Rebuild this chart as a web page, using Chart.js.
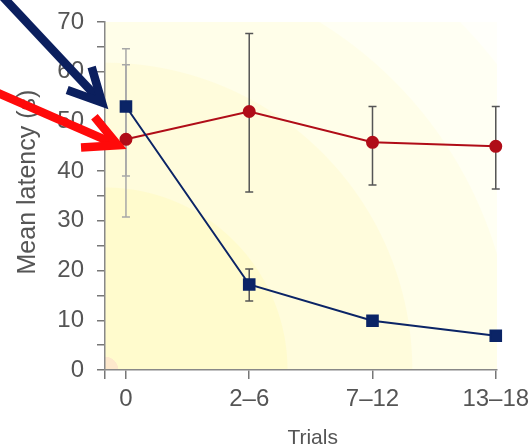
<!DOCTYPE html>
<html>
<head>
<meta charset="utf-8">
<script src="https://cdn.jsdelivr.net/npm/chart.js@4"></script>
<style>
  html, body { margin: 0; padding: 0; background: #fff; }
  #wrap { width: 531px; height: 447px; }
</style>
</head>
<body>
<div id="wrap"><canvas id="latencyChart"></canvas></div>
<script>
// trial blocks on the x axis
const trialBlocks = ['0', '2\u20136', '7\u201312', '13\u201318'];

// blue squares
const blueMean = [53.0, 17.2, 9.9, 6.9];
const blueLow  = [39.0, 13.9, 9.2, 6.3];
const blueHigh = [64.6, 20.3, 10.6, 7.5];

// red circles
const redMean = [46.4, 52.0, 45.8, 45.0];
const redLow  = [30.8, 35.8, 37.2, 36.4];
const redHigh = [61.4, 67.7, 53.0, 53.0];

const yTicks = [0, 5, 10, 15, 20, 25, 30, 35, 40, 45, 50, 55, 60, 65, 70];

const toPoints = arr => arr.map((v, i) => ({ x: i, y: v }));

// pale radial wash behind the plot, from the bottom-left corner
const backdrop = {
    id: 'backdrop',
    beforeDraw(chart) {
        const { ctx, chartArea: a } = chart;
        const g = ctx.createRadialGradient(a.left, a.bottom, 0, a.left, a.bottom, 520);
        g.addColorStop(0.000, '#fde8cc');
        g.addColorStop(0.025, '#fde8cc');
        g.addColorStop(0.026, '#fffbcd');
        g.addColorStop(0.350, '#fffbcd');
        g.addColorStop(0.352, '#fffcdc');
        g.addColorStop(0.590, '#fffcdc');
        g.addColorStop(0.592, '#fffee9');
        g.addColorStop(0.785, '#fffee9');
        g.addColorStop(0.787, '#fffff3');
        g.addColorStop(0.955, '#fffff3');
        g.addColorStop(0.957, '#fffffa');
        g.addColorStop(1.000, '#fffffa');
        ctx.save();
        ctx.fillStyle = g;
        ctx.fillRect(a.left, a.top, a.right - a.left, a.bottom - a.top);
        ctx.restore();
    }
};

// error bars, drawn under the lines and markers
const errorBars = {
    id: 'errorBars',
    beforeDatasetsDraw(chart) {
        const { ctx, scales: { x, y } } = chart;
        const sets = [[blueLow, blueHigh], [redLow, redHigh]];
        ctx.save();
        ctx.lineWidth = 1.5;
        sets.forEach(([lo, hi]) => {
            lo.forEach((l, i) => {
                const px = x.getPixelForValue(i);
                const yl = y.getPixelForValue(l);
                const yh = y.getPixelForValue(hi[i]);
                ctx.strokeStyle = i === 0 ? '#a8a8a8' : '#555';
                ctx.beginPath();
                ctx.moveTo(px, yl); ctx.lineTo(px, yh);
                ctx.moveTo(px - 4, yl); ctx.lineTo(px + 4, yl);
                ctx.moveTo(px - 4, yh); ctx.lineTo(px + 4, yh);
                ctx.stroke();
            });
        });
        ctx.restore();
    }
};

// the two annotation arrows pointing at the first points
function arrow(ctx, tx, ty, dx, dy, color) {
    const ang = Math.atan2(-dy, -dx);
    const len = 37, spread = 0.47;
    ctx.save();
    ctx.strokeStyle = color;
    ctx.lineWidth = 8.5;
    ctx.lineCap = 'butt';
    ctx.lineJoin = 'miter';
    ctx.beginPath();
    ctx.moveTo(tx + dx, ty + dy);
    ctx.lineTo(tx - 3 * Math.cos(ang), ty - 3 * Math.sin(ang));
    ctx.stroke();
    ctx.beginPath();
    ctx.moveTo(tx - len * Math.cos(ang - spread), ty - len * Math.sin(ang - spread));
    ctx.lineTo(tx, ty);
    ctx.lineTo(tx - len * Math.cos(ang + spread), ty - len * Math.sin(ang + spread));
    ctx.stroke();
    ctx.restore();
}

const arrows = {
    id: 'arrows',
    afterDraw(chart) {
        const { ctx, scales: { x, y } } = chart;
        const bx = x.getPixelForValue(0), by = y.getPixelForValue(blueMean[0]);
        const ry = y.getPixelForValue(redMean[0]);
        arrow(ctx, bx - 24, by - 4, -105, -112, '#0b1f5e');
        arrow(ctx, bx - 8, ry + 6, -126, -55, '#ff0a0a');
    }
};

const tickFont = { family: 'Liberation Sans, Arial, sans-serif', size: 24 };
const yTitleFont = { family: 'Liberation Sans, Arial, sans-serif', size: 25 };
const xTitleFont = { family: 'Liberation Sans, Arial, sans-serif', size: 21 };

new Chart(document.getElementById('latencyChart'), {
    type: 'line',
    data: {
        datasets: [{
            label: 'Blue',
            data: toPoints(blueMean),
            borderColor: '#0b2466',
            backgroundColor: '#0b2466',
            borderWidth: 2,
            pointStyle: 'rect',
            pointRadius: 7.5,
            pointHoverRadius: 7.5,
            clip: false
        }, {
            label: 'Red',
            data: toPoints(redMean),
            borderColor: '#b00d18',
            backgroundColor: '#b00d18',
            borderWidth: 2,
            pointStyle: 'circle',
            pointRadius: 5.5,
            pointHoverRadius: 5.5,
            clip: false
        }]
    },
    options: {
        responsive: true,
        maintainAspectRatio: false,
        animation: false,
        layout: { padding: { top: 22, right: 34, bottom: 0, left: 0 } },
        plugins: {
            legend: { display: false },
            tooltip: { enabled: false }
        },
        scales: {
            x: {
                type: 'linear',
                min: -0.17,
                max: 3.01,
                afterBuildTicks: s => { s.ticks = [s.min, 0, 1, 2, 3].map(v => ({ value: v })); },
                afterFit: s => { s.height = 77; s.paddingLeft = 0; s.paddingRight = 0; },
                ticks: {
                    autoSkip: false,
                    maxRotation: 0,
                    padding: 6,
                    color: '#555',
                    font: tickFont,
                    callback: v => Number.isInteger(v) ? trialBlocks[v] : ''
                },
                grid: { drawOnChartArea: false, drawTicks: true, tickLength: 9, color: '#777', lineWidth: 1.5 },
                border: { color: '#888', width: 1.5 },
                title: { display: true, text: '    Trials', color: '#555', font: xTitleFont, padding: { top: 0, bottom: -4 } }
            },
            y: {
                min: 0,
                max: 70,
                afterBuildTicks: s => { s.ticks = yTicks.map(v => ({ value: v })); },
                afterFit: s => { s.width = 105; s.paddingTop = 0; s.paddingBottom = 0; },
                ticks: {
                    autoSkip: false,
                    padding: 13,
                    color: '#555',
                    font: tickFont,
                    callback: v => v % 10 === 0 ? v : ''
                },
                grid: { drawOnChartArea: false, drawTicks: true, tickLength: 8, color: '#777', lineWidth: 1.5 },
                border: { color: '#888', width: 1.5 },
                title: { display: true, text: '    Mean latency (s)', color: '#555', font: yTitleFont, padding: { top: 13, bottom: 0 } }
            }
        }
    },
    plugins: [backdrop, errorBars, arrows]
});
</script>
</body>
</html>
